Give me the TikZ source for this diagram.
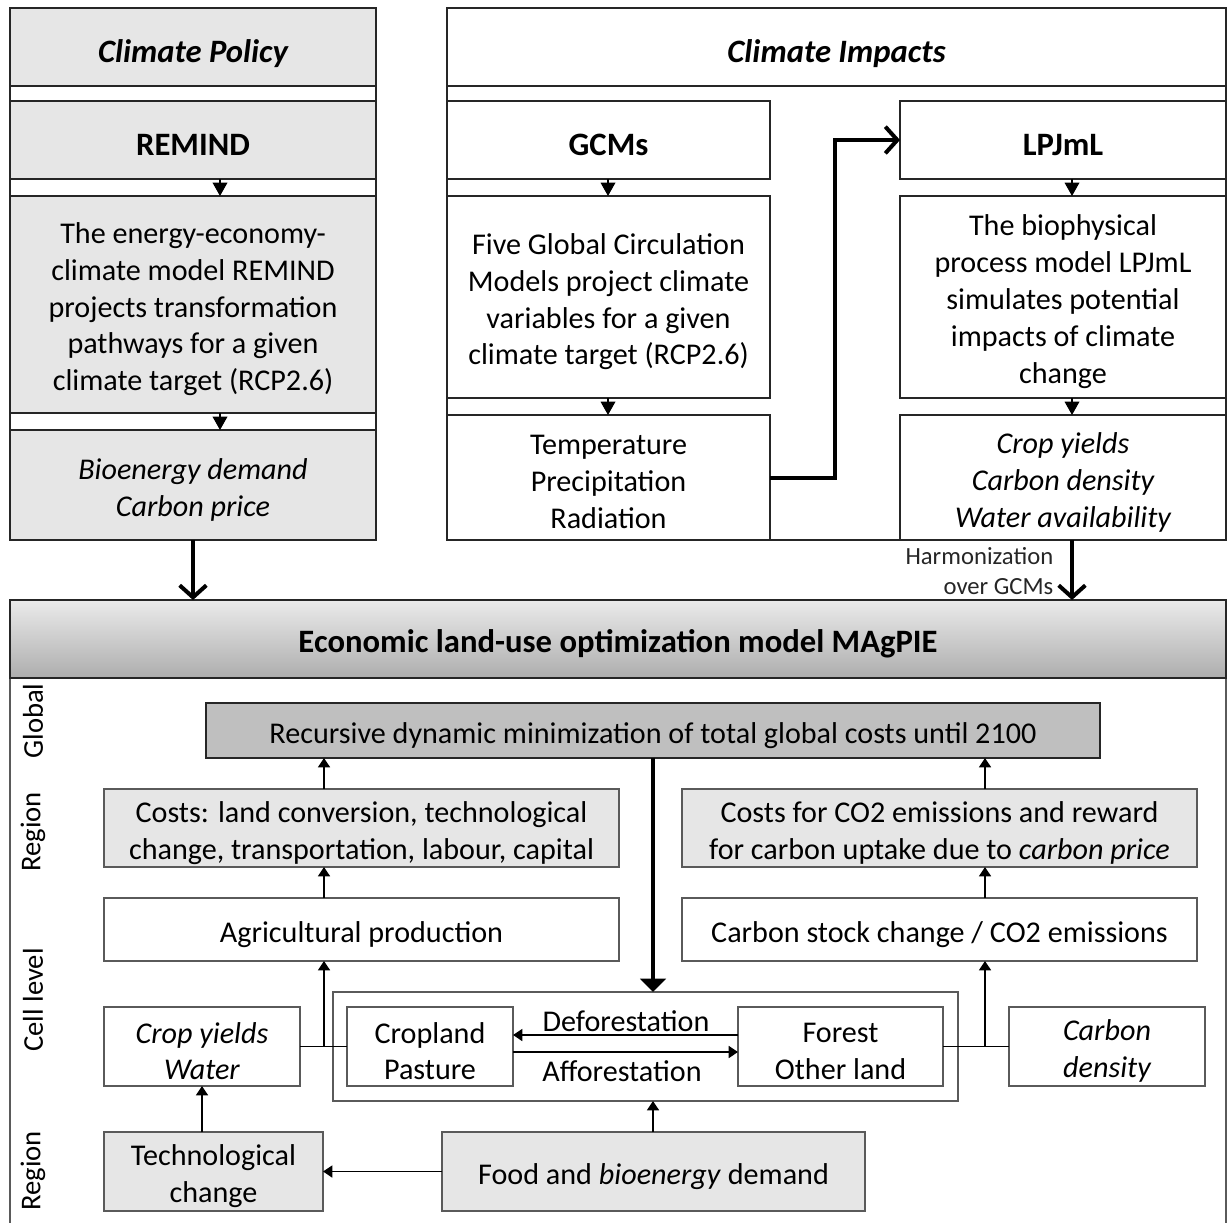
\documentclass[tikz,border=0pt]{standalone}
\usepackage{fontspec}
\setmainfont{Carlito}
\usetikzlibrary{arrows.meta,fit,calc}
\definecolor{lf}{HTML}{E6E6E6}
\definecolor{df}{HTML}{BFBFBF}
\definecolor{bd}{HTML}{262626}
\definecolor{bm}{HTML}{5A5A5A}
\begin{document}
\begin{tikzpicture}[x=0.75pt,y=-0.75pt,
  txt/.style={font=\fontsize{22.6}{27.7}\selectfont},
  tx/.style={txt, align=center, yshift=-3.5pt},
  hd/.style={font=\fontsize{24.5}{30}\selectfont\bfseries, yshift=-3.5pt},
  hdi/.style={font=\fontsize{24.5}{30}\selectfont\bfseries\itshape, yshift=-5pt},
  tb/.style={draw=bd, line width=1.4pt, inner sep=0pt, outer sep=0pt},
  mb/.style={draw=bm, line width=1.4pt, inner sep=0pt, outer sep=0pt},
  frame/.style={draw=bd, line width=1.4pt},
  gaptip/.style={-{Triangle[length=10pt,width=11pt]}, line width=1pt},
  sm/.style={-{Triangle[length=7pt,width=9pt]}, line width=1.3pt},
  bigv/.style={-{Straight Barb[length=9pt,width=20pt,line width=3pt]}, line width=3pt},
  side/.style={rotate=90, font=\fontsize{21.5}{26}\selectfont}]
\useasboundingbox (0,0) rectangle (1228,1223);
% ---------------- left column: Climate Policy
\draw[frame, fill=white] (10,8) rectangle (376,540);
\node[tb, fill=lf, fit={(10,8)(376,86)}] (cp) {};
\node[hdi] at (cp.center) {Climate Policy};
\node[tb, fill=lf, fit={(10,101)(376,179)}] (remind) {};
\node[hd] at (remind.center) {REMIND};
\node[tb, fill=lf, fit={(10,196)(376,413)}] (rdesc) {};
\node[tx] at (rdesc.center) {The energy-economy-\\climate model REMIND\\projects transformation\\pathways for a given\\climate target (RCP2.6)};
\node[tb, fill=lf, fit={(10,430)(376,540)}] (bio) {};
\node[tx] at (bio.center) {\itshape Bioenergy demand\\\itshape Carbon price};
\coordinate (ta) at (220,0);
\draw[gaptip] (remind.south -| ta) -- (rdesc.north -| ta);
\draw[gaptip] (rdesc.south -| ta) -- (bio.north -| ta);
% ---------------- right column: Climate Impacts
\draw[frame, fill=white] (447,8) rectangle (1226,540);
\node[tb, fit={(447,8)(1226,86)}] (ci) {};
\node[hdi] at (ci.center) {Climate Impacts};
\node[tb, fit={(447,101)(770,179)}] (gcm) {};
\node[hd] at (gcm.center) {GCMs};
\node[tb, fit={(447,196)(770,398)}] (gdesc) {};
\node[tx] at (gdesc.center) {Five Global Circulation\\Models project climate\\variables for a given\\climate target (RCP2.6)};
\node[tb, fit={(447,415)(770,540)}] (temp) {};
\node[tx] at (temp.center) {Temperature\\Precipitation\\Radiation};
\node[tb, fit={(900,101)(1226,179)}] (lpj) {};
\node[hd] at (lpj.center) {LPJmL};
\node[tb, fit={(900,196)(1226,398)}] (ldesc) {};
\node[tx] at (ldesc.center) {The biophysical\\process model LPJmL\\simulates potential\\impacts of climate\\change};
\node[tb, fit={(900,415)(1226,540)}] (cyl) {};
\node[tx] at (cyl.center) {\itshape Crop yields\\\itshape Carbon density\\\itshape Water availability};
\coordinate (tg) at (608,0);
\coordinate (tl) at (1072,0);
\draw[gaptip] (gcm.south -| tg) -- (gdesc.north -| tg);
\draw[gaptip] (gdesc.south -| tg) -- (temp.north -| tg);
\draw[gaptip] (lpj.south -| tl) -- (ldesc.north -| tl);
\draw[gaptip] (ldesc.south -| tl) -- (cyl.north -| tl);
\draw[bigv, line join=miter] (temp.east) -- ++(65,0) |- (lpj.west);
% ---------------- MAgPIE
\draw[draw=bm, line width=1.4pt] (10,1230) -- (10,600) -- (1226,600) -- (1226,1230);
\node[draw=bd, line width=1.4pt, inner sep=0pt, outer sep=0pt, top color=white!92!black, bottom color=black!32, fit={(10,600)(1226,678)}] (hdr) {};
\node[hd] at (hdr.center) {Economic land-use optimization model MAgPIE};
\draw[bigv] (bio.south) -- (bio.south |- hdr.north);
\draw[bigv] (cyl.south -| tl) -- (hdr.north -| tl);
\node[anchor=east, align=right, font=\fontsize{18.5}{22}\selectfont, text=bd] at (1058,571) {Harmonization\\over GCMs};
% side labels
\node[side] at (33,721) {Global};
\node[side] at (33,832) {Region};
\node[side] at (33,1000) {Cell level};
\node[side] at (33,1171) {Region};
% boxes
\node[mb, draw=bd, fill=df, fit={(206,703)(1100,758)}] (rec) {};
\node[tx] at (rec.center) {Recursive dynamic minimization of total global costs until 2100};
\node[mb, fill=lf, fit={(104,789)(619,867)}] (costl) {};
\node[tx] at (costl.center) {Costs: land conversion, technological\\change, transportation, labour, capital};
\node[mb, fill=lf, fit={(682,789)(1197,867)}] (costr) {};
\node[tx] at (costr.center) {Costs for CO2 emissions and reward\\for carbon uptake due to \textit{carbon price}};
\node[mb, fit={(104,898)(619,961)}] (agr) {};
\node[tx] at (agr.center) {Agricultural production};
\node[mb, fit={(682,898)(1197,961)}] (cst) {};
\node[tx] at (cst.center) {Carbon stock change / CO2 emissions};
\node[mb, fit={(333,992)(958,1101)}] (land) {};
\node[mb, fit={(104,1007)(300,1086)}] (cy) {};
\node[tx] at (cy.center) {\itshape Crop yields\\\itshape Water};
\node[mb, fit={(347,1007)(513,1086)}] (crop) {};
\node[tx] at (crop.center) {Cropland\\Pasture};
\node[mb, fit={(738,1007)(943,1086)}] (forest) {};
\node[tx] at (forest.center) {Forest\\Other land};
\node[mb, fit={(1009,1007)(1205,1086)}] (cd) {};
\node[tx] at (cd.center) {\itshape Carbon\\\itshape density};
\node[mb, fill=lf, fit={(104,1132)(323,1211)}] (tech) {};
\node[tx] at (tech.center) {Technological\\change};
\node[mb, fill=lf, fit={(442,1132)(865,1211)}] (food) {};
\node[tx] at (food.center) {Food and \textit{bioenergy} demand};
% connectors
\coordinate (xl) at (324,0);
\coordinate (xr) at (985,0);
\draw[sm] (costl.north -| xl) -- (rec.south -| xl);
\draw[sm] (agr.north -| xl) -- (costl.south -| xl);
\draw[sm] (costr.north -| xr) -- (rec.south -| xr);
\draw[sm] (cst.north -| xr) -- (costr.south -| xr);
\draw[line width=1.3pt] (cy.east) -- (crop.west);
\draw[sm] (cy.east -| xl) -- (agr.south -| xl);
\draw[line width=1.3pt] (forest.east) -- (cd.west);
\draw[sm] (forest.east -| xr) -- (cst.south -| xr);
\draw[line width=3pt, -{Triangle[length=10pt,width=19pt]}] (rec.south) -- (rec.south |- land.north);
\draw[sm] (food.north -| rec.south) -- (land.south -| rec.south);
\draw[sm] (food.west) -- (tech.east);
\draw[sm] (tech.north -| cy.south) -- (cy.south);
\coordinate (yd) at (0,1035);
\coordinate (ya) at (0,1052);
\draw[sm] (forest.west |- yd) -- (crop.east |- yd);
\draw[sm] (crop.east |- ya) -- (forest.west |- ya);
\node[txt] at (626,1021) {Deforestation};
\node[txt] at (622,1071) {Afforestation};
\end{tikzpicture}
\end{document}
